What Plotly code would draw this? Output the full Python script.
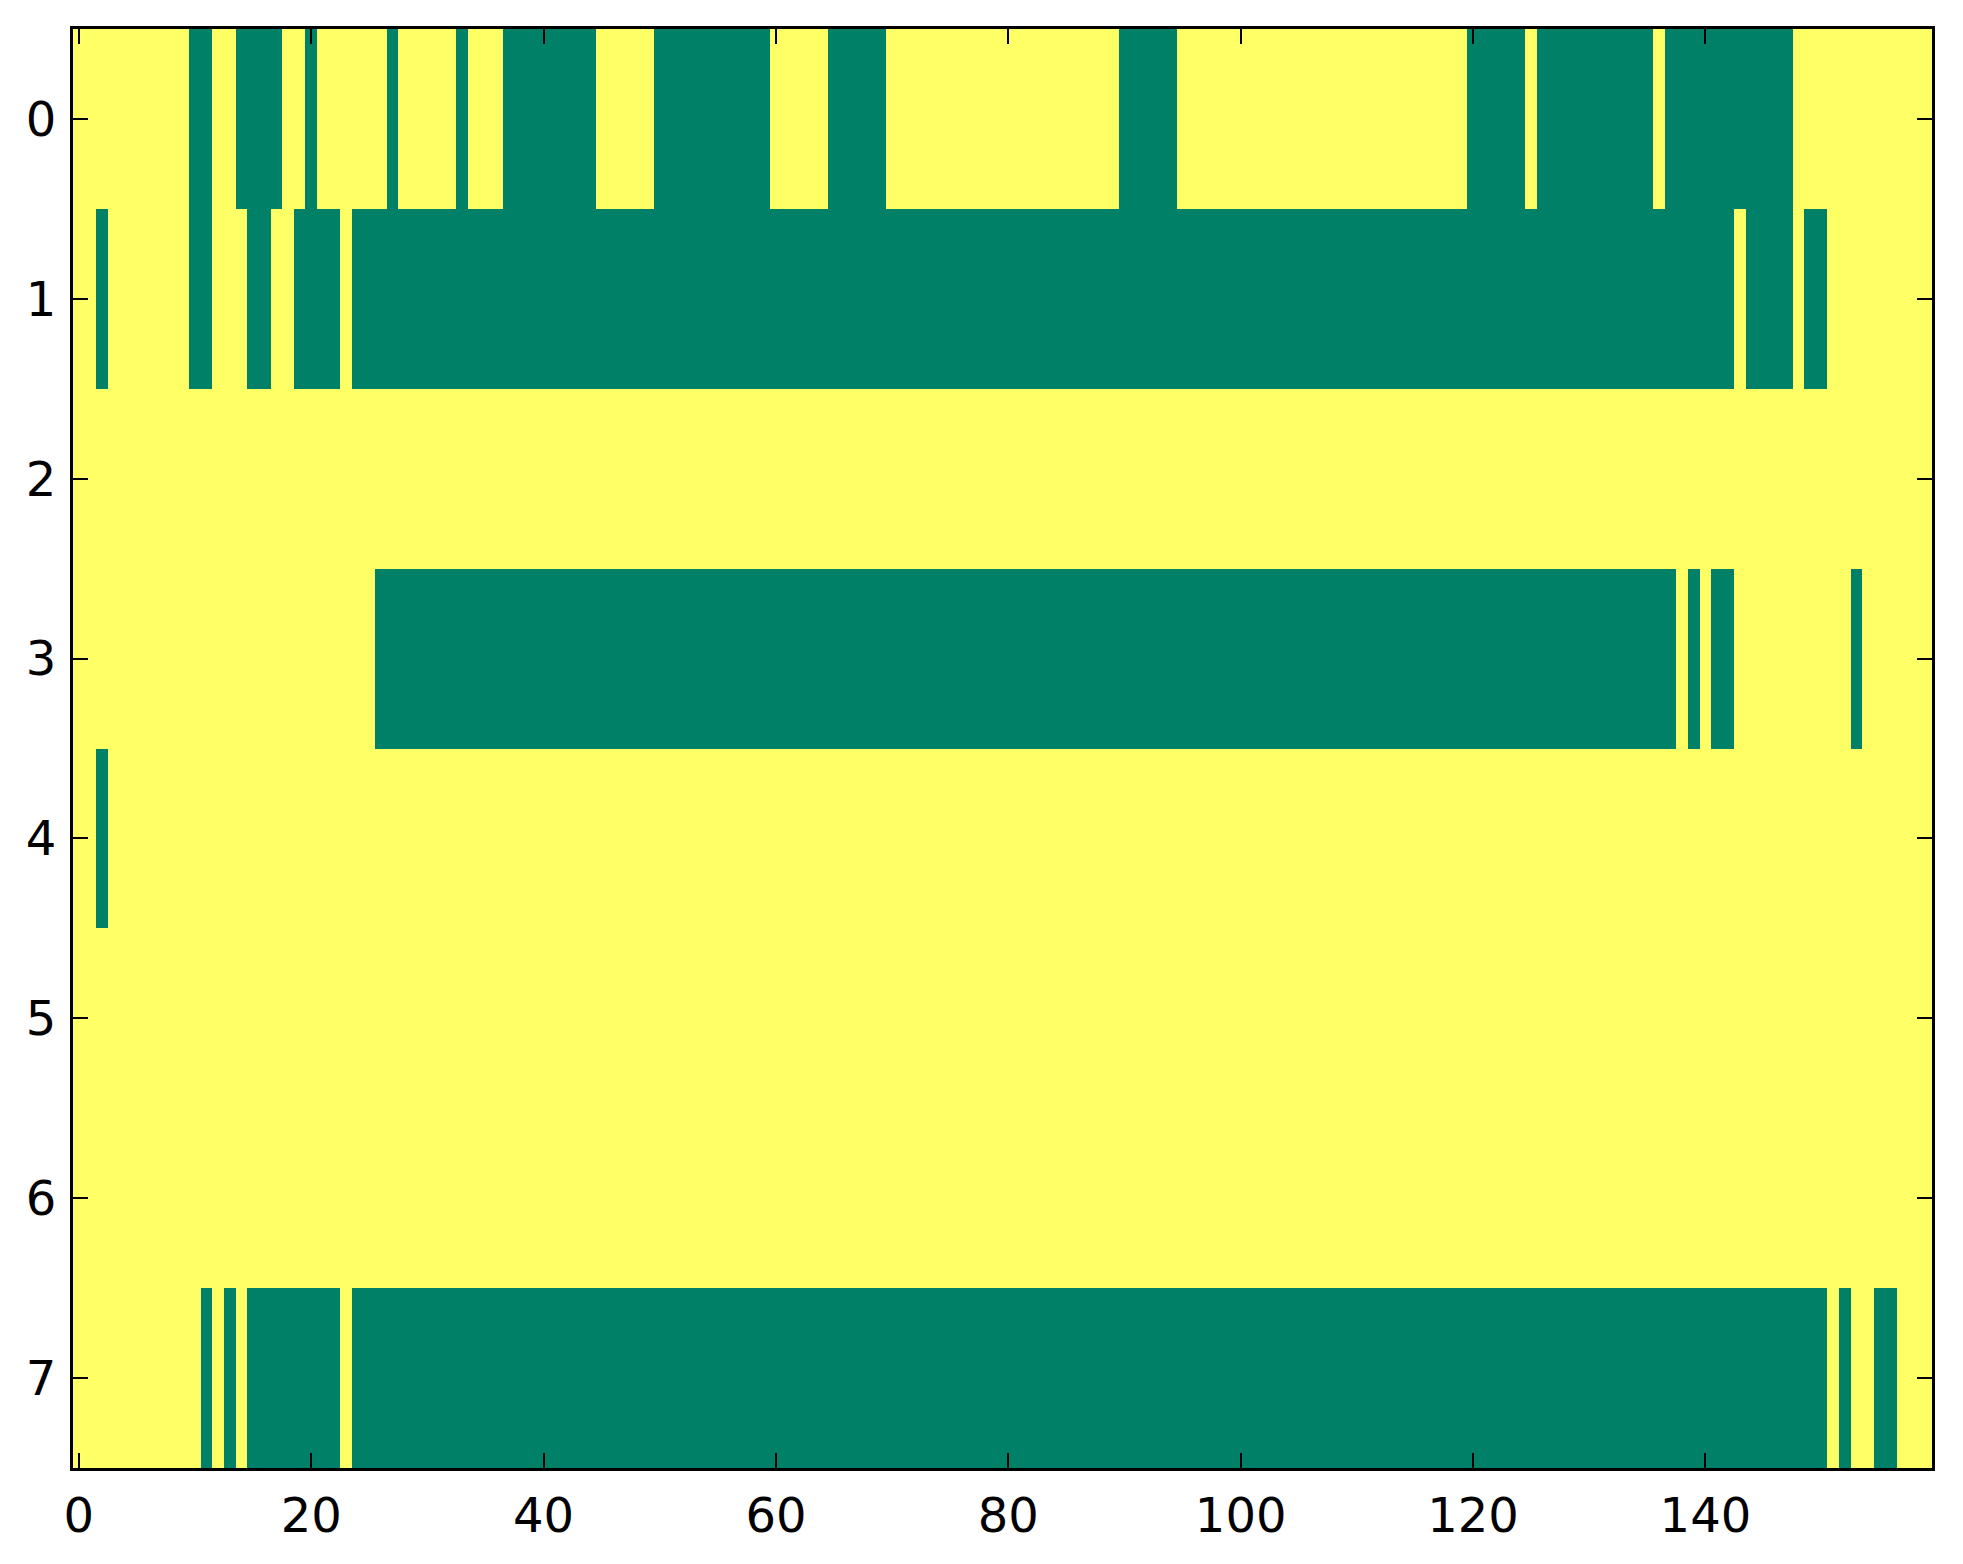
import plotly.graph_objects as go

n_rows = 8
n_cols = 160
rows = list(range(n_rows))
cols = list(range(n_cols))

# Green (value 0) runs per row, inclusive column ranges; everything else is 1 (yellow)
row0_zero = [(10, 11), (14, 17), (20, 20), (27, 27), (33, 33), (37, 44), (50, 59),
             (65, 69), (90, 94), (120, 124), (126, 135), (137, 147)]
row1_zero = [(2, 2), (10, 11), (15, 16), (19, 22), (24, 142), (144, 147), (149, 150)]
row2_zero = []
row3_zero = [(26, 137), (139, 139), (141, 142), (153, 153)]
row4_zero = [(2, 2)]
row5_zero = []
row6_zero = []
row7_zero = [(11, 11), (13, 13), (15, 22), (24, 150), (152, 152), (155, 156)]
zero_runs = [row0_zero, row1_zero, row2_zero, row3_zero, row4_zero, row5_zero, row6_zero, row7_zero]

x_ticks = [0, 20, 40, 60, 80, 100, 120, 140]
y_ticks = [0, 1, 2, 3, 4, 5, 6, 7]

z = []
for runs in zero_runs:
    r = [1] * n_cols
    for a, b in runs:
        for c in range(a, b + 1):
            r[c] = 0
    z.append(r)

fig = go.Figure(go.Heatmap(
    z=z, x=cols, y=rows,
    colorscale=[[0, "#008066"], [1, "#ffff66"]],
    zmin=0, zmax=1, showscale=False, hoverongaps=False,
))

font = dict(family="DejaVu Sans", size=48, color="black")
fig.update_layout(
    width=1963, height=1564,
    margin=dict(l=65, r=39, t=21, b=104),
    paper_bgcolor="white", plot_bgcolor="white",
    font=font,
)
fig.update_xaxes(
    range=[-0.5, 159.5], tickvals=x_ticks, ticktext=[str(v) for v in x_ticks],
    ticks="inside", ticklen=15, tickwidth=2, tickcolor="black",
    showline=True, linecolor="black", linewidth=3, mirror="allticks",
    showgrid=False, zeroline=False, tickfont=font, ticklabelstandoff=3,
)
fig.update_yaxes(
    range=[7.5, -0.5], tickvals=y_ticks, ticktext=[str(v) for v in y_ticks],
    ticks="inside", ticklen=15, tickwidth=2, tickcolor="black",
    showline=True, linecolor="black", linewidth=3, mirror="allticks",
    showgrid=False, zeroline=False, tickfont=font, ticklabelstandoff=4,
)

fig.write_html("out.html")
